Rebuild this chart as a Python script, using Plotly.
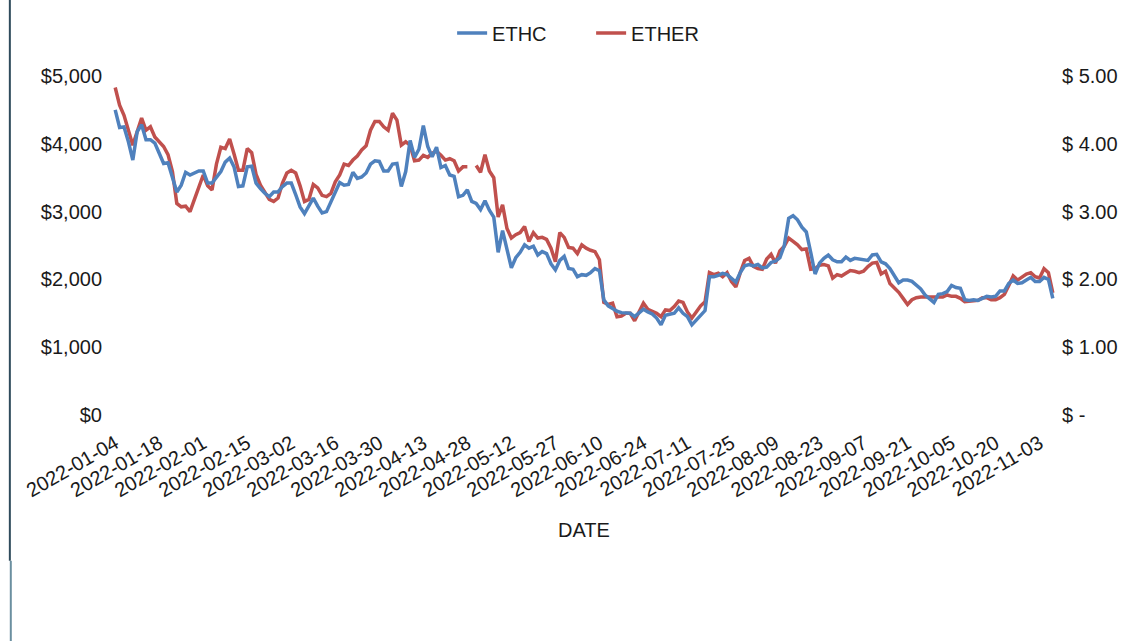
import pandas as pd
import plotly.graph_objects as go

# Trading days (Canadian exchange calendar), Jan 4 - Nov 8 2022
holidays = ["2022-02-21", "2022-04-15", "2022-05-23", "2022-07-01",
            "2022-08-01", "2022-09-05", "2022-10-10"]
dates = [d.strftime("%Y-%m-%d") for d in pd.bdate_range("2022-01-04", "2022-11-08")
         if d.strftime("%Y-%m-%d") not in holidays]

# ETHER price (left axis, $)
ether = [4830, 4570, 4420, 4220, 3980, 4180, 4380, 4200, 4250, 4100,
         4030, 3960, 3840, 3590, 3120, 3070, 3080, 3000, 3180, 3360,
         3540, 3380, 3320, 3700, 3950, 3930, 4070, 3850, 3610, 3610,
         3930, 3870, 3550, 3390, 3280, 3180, 3150, 3200, 3420, 3570,
         3610, 3570, 3380, 3150, 3180, 3400, 3350, 3240, 3220, 3270,
         3440, 3540, 3700, 3680, 3760, 3820, 3910, 3970, 4200, 4330,
         4330, 4250, 4200, 4450, 4350, 3980, 4030, 3980, 3750, 3760,
         3830, 3800, 3860, 3890, 3830, 3760, 3780, 3750, 3600, 3660,
         3660, None, 3680, 3580, 3840, 3600, 3500, 2920, 3100, 2750,
         2610, 2660, 2690, 2780, 2560, 2690, 2610, 2620, 2590, 2460,
         2260, 2690, 2620, 2470, 2460, 2380, 2510, 2460, 2430, 2410,
         2290, 1660, 1630, 1650, 1450, 1460, 1500, 1500, 1390, 1520,
         1650, 1560, 1530, 1500, 1450, 1550, 1540, 1600, 1680, 1660,
         1520, 1430, 1520, 1610, 1670, 2100, 2070, 2090, 2040, 2100,
         1970, 1890, 2100, 2280, 2310, 2190, 2160, 2150, 2300, 2370,
         2240, 2420, 2490, 2610, 2560, 2510, 2440, 2450, 2150, 2160,
         2210, 2220, 2200, 2020, 2070, 2050, 2090, 2130, 2120, 2100,
         2120, 2190, 2240, 2250, 2080, 2120, 1940, 1870, 1810, 1720,
         1630, 1700, 1730, 1740, 1740, 1740, 1740, 1750, 1740, 1770,
         1750, 1750, 1720, 1670, 1680, 1680, 1690, 1730, 1730, 1700,
         1700, 1730, 1780, 1910, 2050, 1990, 2030, 2080, 2100, 2040,
         2020, 2160, 2100, 1800]

# ETHC price (right axis, $)
ethc = [4.50, 4.24, 4.25, 4.03, 3.76, 4.18, 4.28, 4.06, 4.06, 4.01,
        3.86, 3.71, 3.72, 3.51, 3.29, 3.39, 3.58, 3.54, 3.57, 3.60,
        3.60, 3.42, 3.42, 3.51, 3.59, 3.73, 3.79, 3.66, 3.37, 3.38,
        3.66, 3.67, 3.42, 3.34, 3.27, 3.22, 3.29, 3.29, 3.37, 3.42,
        3.42, 3.25, 3.07, 2.97, 3.08, 3.20, 3.08, 2.98, 3.00, 3.15,
        3.27, 3.43, 3.39, 3.40, 3.58, 3.49, 3.51, 3.57, 3.70, 3.75,
        3.74, 3.60, 3.60, 3.70, 3.71, 3.37, 3.59, 4.05, 3.80, 3.92,
        4.27, 3.96, 3.81, 3.95, 3.65, 3.68, 3.54, 3.52, 3.22, 3.24,
        3.32, 3.15, 3.12, 3.03, 3.16, 3.02, 2.92, 2.40, 2.72, 2.43,
        2.17, 2.32, 2.40, 2.51, 2.46, 2.49, 2.36, 2.41, 2.38, 2.23,
        2.14, 2.28, 2.34, 2.16, 2.15, 2.04, 2.07, 2.06, 2.10, 2.16,
        2.13, 1.70, 1.61, 1.57, 1.53, 1.51, 1.51, 1.50, 1.45, 1.50,
        1.56, 1.52, 1.49, 1.43, 1.33, 1.47, 1.48, 1.50, 1.58, 1.50,
        1.45, 1.33, 1.40, 1.47, 1.54, 2.04, 2.04, 2.06, 2.09, 2.07,
        2.02, 1.96, 2.10, 2.20, 2.22, 2.20, 2.22, 2.17, 2.18, 2.25,
        2.27, 2.32, 2.50, 2.90, 2.94, 2.88, 2.77, 2.70, 2.40, 2.08,
        2.24, 2.31, 2.36, 2.29, 2.26, 2.26, 2.33, 2.28, 2.31, 2.30,
        2.28, 2.28, 2.36, 2.37, 2.26, 2.23, 2.16, 2.06, 1.95, 1.99,
        1.99, 1.97, 1.92, 1.86, 1.77, 1.72, 1.66, 1.78, 1.79, 1.82,
        1.91, 1.88, 1.87, 1.70, 1.69, 1.70, 1.69, 1.72, 1.75, 1.74,
        1.75, 1.83, 1.83, 1.94, 1.99, 1.94, 1.95, 1.99, 2.03, 1.97,
        1.97, 2.03, 2.00, 1.72]

tick_dates = dates[::10]
left_ticks = [0, 1000, 2000, 3000, 4000, 5000]
right_ticks = [0, 1, 2, 3, 4, 5]
right_text = ["$ -", "$ 1.00", "$ 2.00", "$ 3.00", "$ 4.00", "$ 5.00"]

BLUE = "#4F81BD"
RED = "#C0504D"

fig = go.Figure()
fig.add_trace(go.Scatter(x=dates, y=ethc, name="ETHC", yaxis="y2", mode="lines",
                         line=dict(color=BLUE, width=3.5)))
fig.add_trace(go.Scatter(x=dates, y=ether, name="ETHER", yaxis="y", mode="lines",
                         line=dict(color=RED, width=3.5), connectgaps=False))

fig.update_layout(
    width=1148, height=641,
    margin=dict(l=113, r=93, t=76, b=226),
    paper_bgcolor="white", plot_bgcolor="white",
    font=dict(family="Liberation Sans, Arial, sans-serif", size=20, color="#1a1a1a"),
    showlegend=True,
    legend=dict(orientation="h", x=0.36, xanchor="left", y=1.127, yanchor="middle",
                font=dict(size=20), itemwidth=30, entrywidth=94,
                bgcolor="rgba(0,0,0,0)"),
    xaxis=dict(type="category", range=[-0.5, len(dates) - 0.5],
               tickvals=tick_dates, ticktext=tick_dates, tickangle=-30,
               showgrid=False, zeroline=False, showline=False, ticks="",
               ticklabelstandoff=12,
               title=dict(text="DATE", font=dict(size=20), standoff=22)),
    yaxis=dict(range=[0, 5000], tickvals=left_ticks, tickformat="$,.0f",
               showgrid=False, zeroline=False, showline=False, ticks="",
               ticklabelstandoff=10),
    yaxis2=dict(range=[0, 5], overlaying="y", side="right", tickvals=right_ticks,
                ticktext=right_text, showgrid=False, zeroline=False, showline=False,
                ticks="", ticklabelstandoff=6),
    shapes=[
        dict(type="line", xref="paper", yref="paper", x0=-0.1095, x1=-0.1095,
             y0=1.23, y1=-0.43, line=dict(color="#2f4b5c", width=2)),
        dict(type="line", xref="paper", yref="paper", x0=-0.1085, x1=-0.1085,
             y0=-0.43, y1=-0.67, line=dict(color="#6b8fa0", width=2)),
    ],
)

fig.write_html("out.html")
